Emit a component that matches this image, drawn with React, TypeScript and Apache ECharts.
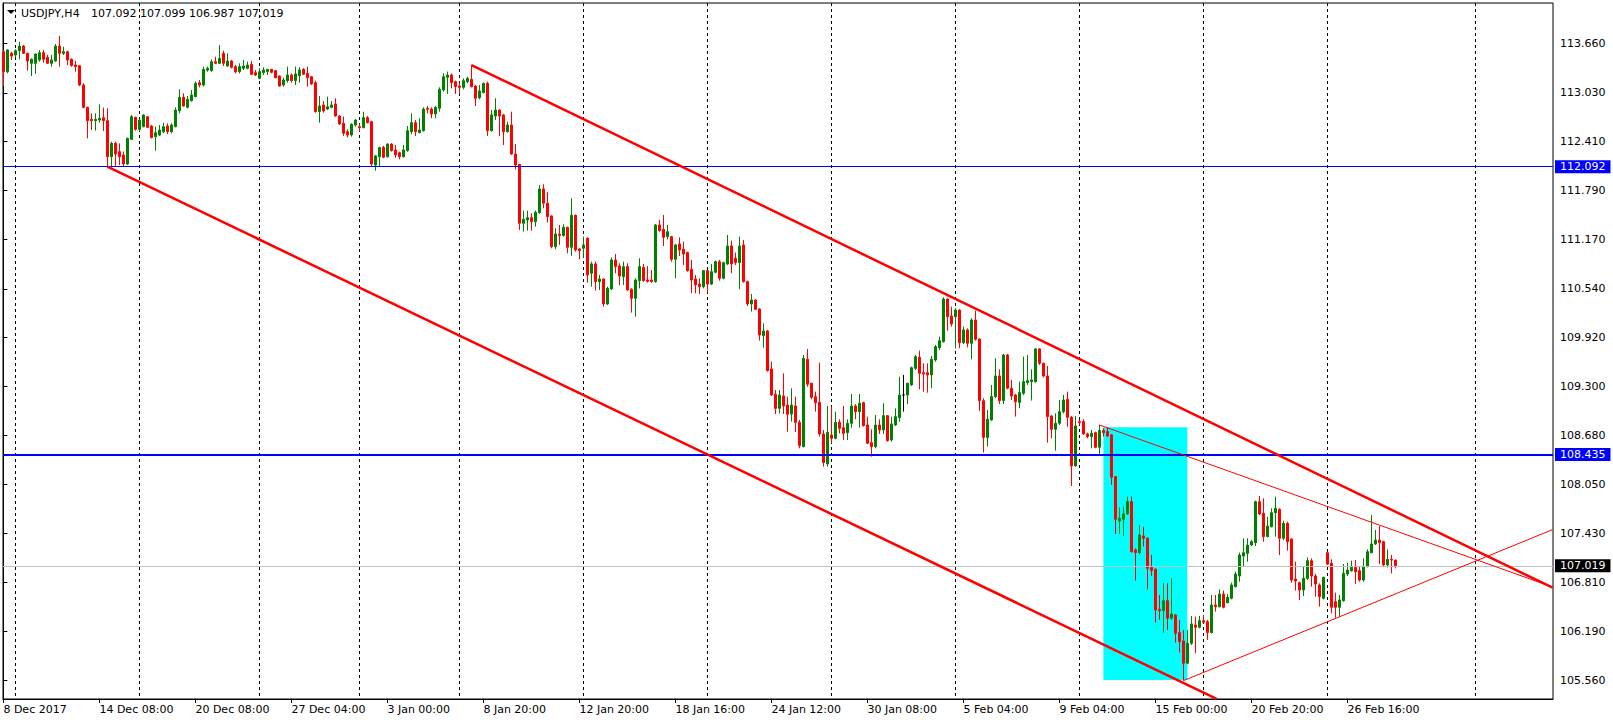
import React, { useEffect, useRef } from "react";
import * as echarts from "echarts";

const symbolName = "USDJPY,H4";

// [open, high, low, close] for every H4 bar, bar index = position in array
const candles: number[][] = [
  [113.553, 113.575, 113.117, 113.299], [113.299, 113.583, 113.278, 113.575], [113.532, 113.553, 113.448, 113.498], [113.511, 113.583, 113.481, 113.566],
  [113.566, 113.680, 113.456, 113.625], [113.625, 113.638, 113.524, 113.532], [113.532, 113.540, 113.312, 113.435], [113.405, 113.468, 113.244, 113.456],
  [113.405, 113.532, 113.270, 113.524], [113.448, 113.575, 113.426, 113.541], [113.541, 113.575, 113.414, 113.456], [113.481, 113.511, 113.397, 113.405],
  [113.405, 113.511, 113.363, 113.448], [113.435, 113.651, 113.426, 113.625], [113.625, 113.753, 113.363, 113.532], [113.532, 113.617, 113.511, 113.553],
  [113.553, 113.566, 113.384, 113.448], [113.456, 113.468, 113.363, 113.376], [113.384, 113.439, 113.299, 113.363], [113.376, 113.384, 113.117, 113.130],
  [113.130, 113.151, 112.833, 112.846], [112.846, 112.854, 112.452, 112.677], [112.693, 112.770, 112.558, 112.677], [112.677, 112.770, 112.550, 112.693],
  [112.685, 112.884, 112.651, 112.706], [112.715, 112.842, 112.545, 112.677], [112.677, 112.833, 112.092, 112.219], [112.219, 112.410, 112.100, 112.389],
  [112.389, 112.410, 112.100, 112.253], [112.283, 112.389, 112.113, 112.219], [112.240, 112.283, 112.100, 112.126], [112.126, 112.461, 112.113, 112.452],
  [112.439, 112.749, 112.431, 112.727], [112.719, 112.727, 112.550, 112.566], [112.566, 112.700, 112.540, 112.685], [112.600, 112.757, 112.592, 112.749],
  [112.727, 112.736, 112.579, 112.592], [112.609, 112.622, 112.452, 112.461], [112.473, 112.600, 112.295, 112.524], [112.494, 112.622, 112.482, 112.558],
  [112.537, 112.651, 112.516, 112.600], [112.609, 112.643, 112.507, 112.537], [112.537, 112.643, 112.516, 112.622], [112.600, 112.846, 112.592, 112.812],
  [112.804, 113.075, 112.770, 112.973], [112.973, 113.024, 112.855, 112.863], [112.846, 112.990, 112.833, 112.948], [112.931, 113.066, 112.918, 113.003],
  [112.982, 113.172, 112.973, 113.151], [113.159, 113.193, 113.100, 113.130], [113.130, 113.363, 113.109, 113.329], [113.320, 113.363, 113.299, 113.342],
  [113.312, 113.456, 113.299, 113.426], [113.426, 113.490, 113.397, 113.405], [113.405, 113.638, 113.397, 113.469], [113.532, 113.566, 113.371, 113.405],
  [113.371, 113.532, 113.363, 113.435], [113.435, 113.448, 113.342, 113.354], [113.363, 113.384, 113.278, 113.299], [113.299, 113.405, 113.278, 113.363],
  [113.342, 113.448, 113.320, 113.371], [113.342, 113.426, 113.329, 113.384], [113.393, 113.435, 113.257, 113.266], [113.287, 113.321, 113.244, 113.257],
  [113.215, 113.342, 113.202, 113.299], [113.287, 113.355, 113.257, 113.321], [113.300, 113.333, 113.257, 113.329], [113.329, 113.333, 113.278, 113.291],
  [113.312, 113.321, 113.215, 113.223], [113.244, 113.253, 113.109, 113.117], [113.130, 113.223, 113.109, 113.194], [113.185, 113.363, 113.160, 113.257],
  [113.257, 113.278, 113.160, 113.185], [113.185, 113.363, 113.130, 113.270], [113.249, 113.355, 113.160, 113.321], [113.329, 113.342, 113.257, 113.266],
  [113.278, 113.363, 113.109, 113.223], [113.236, 113.245, 113.130, 113.143], [113.160, 113.185, 112.779, 112.791], [112.791, 112.990, 112.651, 112.863],
  [112.876, 112.927, 112.779, 112.800], [112.825, 112.982, 112.813, 112.855], [112.846, 112.927, 112.834, 112.876], [112.889, 112.961, 112.728, 112.736],
  [112.736, 112.749, 112.622, 112.634], [112.643, 112.728, 112.482, 112.516], [112.537, 112.567, 112.465, 112.495], [112.495, 112.643, 112.474, 112.630],
  [112.622, 112.694, 112.601, 112.685], [112.601, 112.634, 112.537, 112.588], [112.588, 112.791, 112.579, 112.715], [112.715, 112.736, 112.643, 112.651],
  [112.664, 112.677, 112.101, 112.126], [112.113, 112.241, 112.041, 112.228], [112.219, 112.346, 112.092, 112.334], [112.338, 112.355, 112.198, 112.211],
  [112.219, 112.389, 112.207, 112.380], [112.380, 112.389, 112.283, 112.296], [112.304, 112.368, 112.207, 112.241], [112.270, 112.283, 112.185, 112.219],
  [112.219, 112.368, 112.207, 112.304], [112.296, 112.609, 112.283, 112.550], [112.537, 112.770, 112.507, 112.651], [112.651, 112.685, 112.482, 112.537],
  [112.524, 112.706, 112.516, 112.558], [112.550, 112.846, 112.537, 112.825], [112.834, 112.863, 112.770, 112.821], [112.825, 112.846, 112.707, 112.762],
  [112.762, 112.863, 112.707, 112.846], [112.834, 113.100, 112.791, 113.075], [113.067, 113.278, 113.045, 113.236], [113.228, 113.300, 113.016, 113.257],
  [113.257, 113.278, 113.088, 113.160], [113.172, 113.185, 113.016, 113.109], [113.117, 113.160, 113.016, 113.100], [113.100, 113.215, 113.075, 113.185],
  [113.172, 113.236, 113.151, 113.215], [113.202, 113.384, 113.100, 113.109], [113.117, 113.130, 112.863, 112.961], [112.969, 113.130, 112.948, 113.054],
  [113.033, 113.160, 113.024, 113.151], [113.151, 113.172, 112.482, 112.550], [112.550, 112.812, 112.537, 112.749], [112.736, 112.961, 112.685, 112.812],
  [112.812, 112.821, 112.482, 112.736], [112.749, 112.762, 112.368, 112.537], [112.537, 112.664, 112.524, 112.622], [112.622, 112.791, 112.241, 112.253],
  [112.253, 112.380, 112.058, 112.113], [112.122, 112.126, 111.288, 111.372], [111.372, 111.533, 111.266, 111.423], [111.415, 111.533, 111.279, 111.444],
  [111.444, 111.499, 111.279, 111.393], [111.393, 111.533, 111.330, 111.512], [111.508, 111.860, 111.491, 111.809], [111.809, 111.868, 111.563, 111.627],
  [111.627, 111.766, 111.381, 111.457], [111.466, 111.474, 111.055, 111.076], [111.076, 111.309, 111.042, 111.237], [111.233, 111.351, 111.097, 111.216],
  [111.216, 111.360, 111.203, 111.322], [111.322, 111.330, 110.991, 111.067], [111.067, 111.690, 110.957, 111.474], [111.474, 111.483, 111.012, 111.034],
  [111.046, 111.055, 110.915, 111.025], [111.055, 111.203, 110.928, 111.097], [111.182, 111.194, 110.618, 110.716], [110.737, 110.885, 110.567, 110.856],
  [110.856, 110.885, 110.517, 110.631], [110.631, 110.716, 110.525, 110.665], [110.665, 110.673, 110.313, 110.347], [110.347, 110.567, 110.334, 110.546],
  [110.538, 110.940, 110.525, 110.906], [110.906, 110.983, 110.737, 110.822], [110.830, 110.864, 110.584, 110.703], [110.694, 110.885, 110.589, 110.822],
  [110.822, 110.864, 110.517, 110.525], [110.534, 110.546, 110.237, 110.419], [110.419, 110.673, 110.186, 110.652], [110.644, 110.928, 110.546, 110.822],
  [110.813, 110.856, 110.631, 110.644], [110.652, 110.830, 110.618, 110.635], [110.652, 110.779, 110.618, 110.631], [110.631, 111.364, 110.618, 111.351],
  [111.351, 111.415, 111.267, 111.279], [111.296, 111.478, 111.084, 111.194], [111.203, 111.351, 111.169, 111.266], [111.203, 111.212, 110.885, 110.915],
  [110.915, 111.110, 110.673, 111.097], [111.110, 111.194, 110.957, 111.034], [111.042, 111.139, 110.843, 110.983], [111.000, 111.012, 110.758, 110.771],
  [110.788, 110.906, 110.483, 110.652], [110.665, 110.716, 110.483, 110.589], [110.601, 110.673, 110.474, 110.567], [110.567, 110.779, 110.546, 110.771],
  [110.771, 110.780, 110.491, 110.600], [110.600, 110.856, 110.590, 110.758], [110.750, 110.898, 110.737, 110.885], [110.885, 110.906, 110.644, 110.673],
  [110.673, 110.885, 110.660, 110.872], [110.856, 111.224, 110.843, 111.084], [111.084, 111.152, 110.737, 110.856], [110.928, 111.000, 110.843, 110.873],
  [110.873, 111.203, 110.534, 111.084], [111.097, 111.161, 110.618, 110.631], [110.631, 110.644, 110.322, 110.347], [110.347, 110.474, 110.250, 110.398],
  [110.398, 110.406, 110.271, 110.279], [110.283, 110.292, 109.881, 109.953], [109.944, 110.101, 109.792, 110.004], [110.004, 110.017, 109.487, 109.500],
  [109.521, 109.614, 109.178, 109.190], [109.199, 109.254, 108.949, 109.021], [109.021, 109.254, 108.957, 109.190], [109.178, 109.466, 108.949, 109.051],
  [109.063, 109.169, 108.724, 108.945], [108.949, 109.275, 108.852, 109.063], [109.051, 109.169, 108.720, 108.843], [108.843, 108.873, 108.513, 108.547],
  [108.534, 109.699, 108.525, 109.656], [109.644, 109.775, 109.296, 109.326], [109.339, 109.347, 109.136, 109.161], [109.169, 109.233, 108.979, 109.093],
  [109.097, 109.601, 108.661, 108.695], [108.695, 108.746, 108.280, 108.331], [108.314, 109.051, 108.280, 108.716], [108.682, 109.042, 108.576, 108.640],
  [108.640, 108.979, 108.627, 108.843], [108.843, 108.881, 108.703, 108.767], [108.775, 109.051, 108.619, 108.703], [108.712, 108.881, 108.619, 108.830],
  [108.830, 109.203, 108.775, 109.051], [109.051, 109.076, 108.881, 108.979], [108.979, 109.203, 108.775, 109.085], [109.093, 109.106, 108.788, 108.801],
  [108.809, 108.915, 108.568, 108.576], [108.585, 108.754, 108.407, 108.534], [108.534, 108.936, 108.513, 108.809], [108.809, 108.881, 108.695, 108.746],
  [108.746, 109.085, 108.695, 108.928], [108.928, 108.936, 108.598, 108.610], [108.619, 108.915, 108.598, 108.822], [108.809, 109.021, 108.796, 108.915],
  [108.903, 109.423, 108.852, 109.190], [109.190, 109.445, 108.979, 109.190], [109.190, 109.347, 109.076, 109.339], [109.318, 109.551, 109.305, 109.538],
  [109.529, 109.699, 109.508, 109.678], [109.669, 109.754, 109.263, 109.466], [109.474, 109.593, 109.233, 109.457], [109.474, 109.593, 109.220, 109.445],
  [109.445, 109.686, 109.275, 109.644], [109.635, 109.826, 109.614, 109.805], [109.792, 109.932, 109.762, 109.881], [109.868, 110.432, 109.856, 110.410],
  [110.410, 110.419, 110.008, 110.186], [110.194, 110.313, 110.059, 110.093], [110.186, 110.292, 109.784, 110.271], [110.271, 110.279, 109.784, 109.856],
  [109.856, 110.059, 109.839, 110.017], [110.017, 110.038, 109.796, 109.847], [109.847, 110.165, 109.644, 110.144], [110.144, 110.262, 109.881, 109.898],
  [109.902, 109.911, 108.987, 109.118], [109.118, 109.150, 108.460, 108.650], [108.650, 109.000, 108.534, 108.881], [108.873, 109.318, 108.865, 109.170],
  [109.170, 109.657, 109.149, 109.432], [109.432, 109.517, 109.077, 109.119], [109.119, 109.712, 109.077, 109.699], [109.699, 109.712, 109.263, 109.276],
  [109.276, 109.382, 109.127, 109.178], [109.191, 109.204, 108.916, 109.106], [109.094, 109.360, 109.022, 109.221], [109.212, 109.678, 109.191, 109.360],
  [109.348, 109.699, 109.318, 109.373], [109.360, 109.517, 109.119, 109.382], [109.360, 109.784, 109.348, 109.776], [109.776, 109.784, 109.572, 109.593],
  [109.593, 109.602, 109.415, 109.432], [109.432, 109.559, 108.585, 108.916], [108.924, 108.937, 108.640, 108.755], [108.755, 108.958, 108.484, 108.831],
  [108.831, 109.127, 108.810, 108.979], [108.979, 109.191, 108.958, 109.127], [109.136, 109.233, 108.789, 108.907], [108.907, 108.924, 108.034, 108.289],
  [108.289, 108.924, 108.280, 108.797], [108.852, 108.873, 108.810, 108.839], [108.852, 108.882, 108.683, 108.695], [108.695, 108.712, 108.640, 108.662],
  [108.662, 108.746, 108.513, 108.704], [108.712, 108.725, 108.513, 108.526], [108.526, 108.810, 108.416, 108.738], [108.738, 108.767, 108.662, 108.712],
  [108.725, 108.780, 108.653, 108.670], [108.683, 108.695, 108.047, 108.145], [108.153, 108.162, 107.425, 107.611], [107.590, 107.763, 107.425, 107.624],
  [107.611, 107.772, 107.399, 107.679], [107.679, 107.899, 107.666, 107.836], [107.836, 107.899, 107.187, 107.200], [107.221, 107.242, 106.831, 107.187],
  [107.187, 107.539, 107.170, 107.412], [107.399, 107.518, 107.264, 107.370], [107.370, 107.382, 106.721, 106.988], [107.001, 107.158, 106.891, 106.959],
  [106.976, 106.988, 106.298, 106.459], [106.467, 106.649, 106.332, 106.450], [106.450, 106.798, 106.171, 106.577], [106.577, 106.798, 106.205, 106.353],
  [106.353, 106.861, 106.332, 106.408], [106.395, 106.408, 106.044, 106.162], [106.171, 106.332, 105.917, 106.056], [106.065, 106.204, 105.560, 105.781],
  [105.781, 106.204, 105.773, 106.035], [106.035, 106.383, 106.014, 106.281], [106.268, 106.374, 105.908, 106.238], [106.238, 106.383, 106.226, 106.323],
  [106.323, 106.395, 106.289, 106.302], [106.310, 106.332, 106.078, 106.171], [106.170, 106.648, 106.161, 106.521], [106.521, 106.648, 106.437, 106.500],
  [106.500, 106.720, 106.492, 106.661], [106.661, 106.704, 106.479, 106.492], [106.551, 106.661, 106.543, 106.619], [106.606, 106.805, 106.593, 106.776],
  [106.754, 106.945, 106.746, 106.915], [106.890, 107.187, 106.818, 107.157], [107.144, 107.369, 107.017, 107.187], [107.178, 107.369, 107.072, 107.284],
  [107.284, 107.347, 107.271, 107.326], [107.314, 107.847, 107.271, 107.835], [107.835, 107.907, 107.665, 107.678], [107.686, 107.877, 107.326, 107.390],
  [107.390, 107.644, 107.381, 107.525], [107.517, 107.750, 107.508, 107.695], [107.695, 107.898, 107.390, 107.750], [107.737, 107.750, 107.157, 107.369],
  [107.369, 107.593, 107.347, 107.559], [107.559, 107.580, 107.212, 107.326], [107.360, 107.369, 106.805, 106.839], [106.852, 107.072, 106.704, 106.826],
  [106.805, 106.818, 106.585, 106.712], [106.712, 107.017, 106.636, 106.860], [106.860, 107.127, 106.839, 107.085], [107.085, 107.114, 106.754, 106.890],
  [106.890, 106.915, 106.627, 106.788], [106.776, 106.797, 106.500, 106.627], [106.606, 106.881, 106.593, 106.873], [107.187, 107.195, 107.030, 107.042],
  [107.051, 107.102, 106.415, 106.492], [106.564, 106.678, 106.360, 106.492], [106.492, 106.649, 106.373, 106.585], [106.577, 107.042, 106.564, 106.924],
  [106.915, 107.059, 106.890, 106.966], [106.958, 107.085, 106.945, 107.000], [107.000, 107.093, 106.788, 106.945], [106.958, 107.017, 106.818, 106.839],
  [106.839, 107.114, 106.818, 107.009], [107.009, 107.229, 107.000, 107.199], [107.186, 107.665, 107.178, 107.297], [107.297, 107.475, 107.284, 107.347],
  [107.347, 107.525, 107.042, 107.314], [107.326, 107.339, 107.009, 107.030], [107.030, 107.229, 107.000, 107.102], [107.102, 107.157, 106.924, 107.093],
  [107.092, 107.099, 106.987, 107.019],
];

// time scale labels (bar index -> text)
const timeLabelIdx = [0, 24, 48, 72, 96, 120, 144, 168, 192, 216, 240, 264, 288, 312, 336];
const timeLabelText = [
  "8 Dec 2017", "14 Dec 08:00", "20 Dec 08:00", "27 Dec 04:00", "3 Jan 00:00", "8 Jan 20:00", "12 Jan 20:00",
  "18 Jan 16:00", "24 Jan 12:00", "30 Jan 08:00", "5 Feb 04:00", "9 Feb 04:00", "15 Feb 00:00", "20 Feb 20:00", "26 Feb 16:00",
];
// weekly period separators (bar index)
const weekSeparatorIdx = [3, 34, 64, 89, 114, 145, 176, 207, 238, 269, 300, 331, 368];
// price scale
const priceTicks = [105.56, 106.19, 106.81, 107.43, 108.05, 108.68, 109.3, 109.92, 110.54, 111.17, 111.79, 112.41, 113.03, 113.66];
const priceMin = 105.327;
const priceMax = 114.172;
const barMin = -0.1;
const barMax = 387.4;

// horizontal levels
const thinLevel = 112.092;
const thickLevel = 108.435;

// trend lines: [barIndex, price] pairs
const channelUpper = [[117, 113.384], [387.3, 106.742]];
const channelLower = [[26, 112.092], [303.3, 105.33]];
const triangleUpper = [[274, 108.81], [387.3, 106.75]];
const triangleLower = [[295, 105.56], [387.3, 107.48]];
const cyanZone = [[275, 108.78], [296, 105.57]];

const FONT = "DejaVu Sans";

export default function App() {
  const ref = useRef<HTMLDivElement>(null);

  useEffect(() => {
    if (!ref.current) return;
    const chart = echarts.init(ref.current, null, { renderer: "svg" });

    const data = candles.map((c, i) => {
      const item: any = { value: [i, c[0], c[3], c[2], c[1]] };
      if (c[0] === c[3]) {
        item.itemStyle = { color: "#000000", color0: "#000000", borderColor: "#000000", borderColor0: "#000000" };
      }
      return item;
    });
    const last = candles[candles.length - 1];
    const bid = last[3];

    const seg = (s: number[][], width: number) => [
      { coord: s[0], lineStyle: { color: "#ff0000", width, type: "solid" } },
      { coord: s[1], lineStyle: { color: "#ff0000", width, type: "solid" } },
    ];
    const levelLabel = (value: number, bg: string) => ({
      show: true,
      position: "end",
      distance: 2,
      formatter: value.toFixed(3),
      backgroundColor: bg,
      color: "#ffffff",
      fontFamily: FONT,
      fontSize: 11,
      lineHeight: 13,
      padding: [0, 5, 0, 5],
    });

    const labelMap: Record<number, string> = {};
    timeLabelIdx.forEach((v, k) => (labelMap[v] = timeLabelText[k]));

    chart.setOption({
      animation: false,
      backgroundColor: "#ffffff",
      grid: { left: 3, right: 60, top: 3, bottom: 24, show: true, borderColor: "#000000", borderWidth: 1, backgroundColor: "transparent" },
      xAxis: [
        {
          type: "value",
          min: barMin,
          max: barMax,
          position: "bottom",
          axisLine: { show: true, lineStyle: { color: "#000000", width: 1 } },
          axisTick: { show: true, customValues: timeLabelIdx, length: 4, lineStyle: { color: "#000000" } },
          axisLabel: {
            show: true,
            customValues: timeLabelIdx,
            formatter: (v: number) => labelMap[Math.round(v)] ?? "",
            align: "left",
            margin: 5,
            color: "#000000",
            fontFamily: FONT,
            fontSize: 11,
          },
          splitLine: { show: false },
        },
        {
          type: "value",
          min: barMin,
          max: barMax,
          position: "top",
          axisLine: { show: false },
          axisTick: { show: false, customValues: weekSeparatorIdx },
          axisLabel: { show: false },
          splitLine: { show: true, lineStyle: { color: "#000000", width: 1, type: [3, 3] } },
        },
      ],
      yAxis: {
        type: "value",
        position: "right",
        min: priceMin,
        max: priceMax,
        axisLine: { show: true, lineStyle: { color: "#000000", width: 1 } },
        axisTick: { show: true, customValues: priceTicks, length: 4, lineStyle: { color: "#000000" } },
        axisLabel: {
          show: true,
          customValues: priceTicks,
          formatter: (v: number) => v.toFixed(3),
          margin: 7,
          color: "#000000",
          fontFamily: FONT,
          fontSize: 11,
        },
        splitLine: { show: false },
      },
      series: [
        {
          type: "candlestick",
          xAxisIndex: 0,
          yAxisIndex: 0,
          dimensions: ["idx", "open", "close", "lowest", "highest"],
          encode: { x: "idx", y: ["open", "close", "lowest", "highest"] },
          data,
          barWidth: 2,
          clip: false,
          itemStyle: {
            color: "#008000",
            color0: "#ff0000",
            borderColor: "#008000",
            borderColor0: "#ff0000",
            borderWidth: 1,
          },
          markArea: {
            silent: true,
            itemStyle: { color: "#00ffff", opacity: 1 },
            data: [[{ coord: cyanZone[0] }, { coord: cyanZone[1] }]],
          },
          markLine: {
            silent: true,
            symbol: ["none", "none"],
            precision: 3,
            animation: false,
            label: { show: false },
            data: [
              { yAxis: bid, lineStyle: { color: "#c0c0c0", width: 1, type: "solid" }, label: levelLabel(bid, "#000000") },
              { yAxis: thinLevel, lineStyle: { color: "#0000ff", width: 1, type: "solid" }, label: levelLabel(thinLevel, "#0000ff") },
              { yAxis: thickLevel, lineStyle: { color: "#0000ff", width: 2, type: "solid" }, label: levelLabel(thickLevel, "#0000ff") },
              seg(channelUpper, 2.5),
              seg(channelLower, 2.5),
              seg(triangleUpper, 1),
              seg(triangleLower, 1),
            ],
          },
        },
      ],
      graphic: [
        { type: "polygon", shape: { points: [[7, 10], [15, 10], [11, 14]] }, style: { fill: "#000000" } },
        {
          type: "text",
          x: 21,
          y: 13,
          style: { text: symbolName, fill: "#000000", fontFamily: FONT, fontSize: 11, verticalAlign: "middle" },
        },
        {
          type: "text",
          x: 91,
          y: 13,
          style: {
            text: last.map((v) => v.toFixed(3)).join(" "),
            fill: "#000000",
            fontFamily: FONT,
            fontSize: 11,
            verticalAlign: "middle",
          },
        },
      ],
    });

    return () => chart.dispose();
  }, []);

  return (
    <div
      ref={ref}
      style={{ position: "fixed", left: 0, top: 0, width: 1613, height: 723, background: "#ffffff" }}
    />
  );
}
